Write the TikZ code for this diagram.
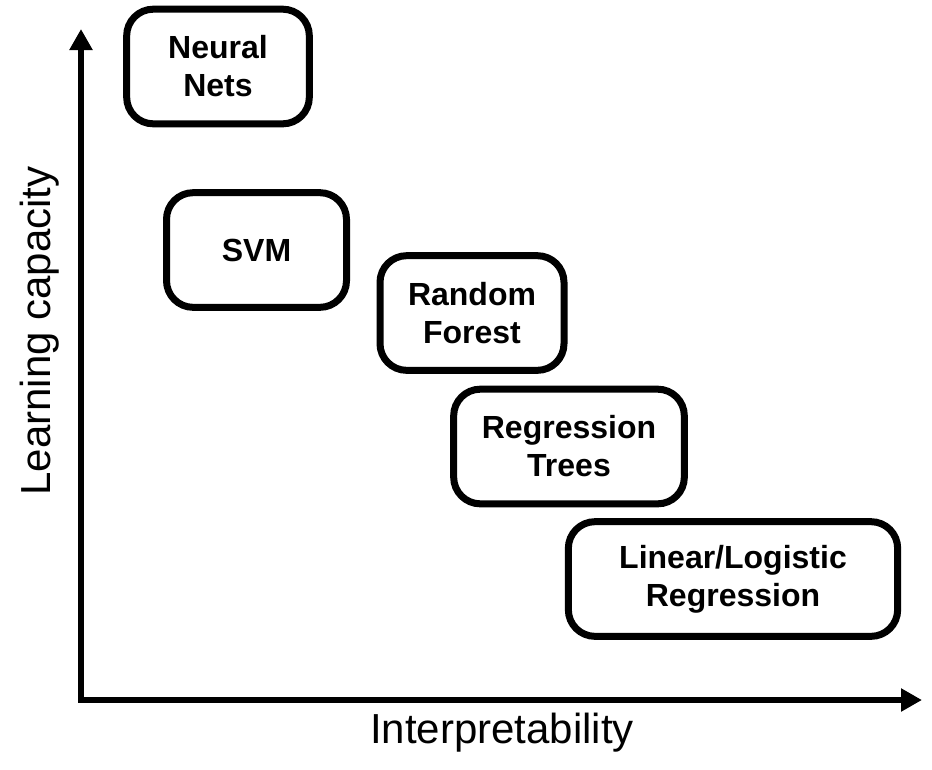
\documentclass[tikz,border=0pt]{standalone}
\usepackage{fontspec}
\setmainfont{Liberation Sans}
\usetikzlibrary{arrows.meta}

\begin{document}
\begin{tikzpicture}[x=0.75pt, y=-0.75pt,
	model/.style={shape=rectangle, draw=black, line width=5.25pt, rounded corners=20pt, align=center, minimum height=86pt, font=\fontsize{24}{28.5}\selectfont\bfseries},
	axis/.style={line width=4.5pt, {Triangle[length=15.75pt,width=16.5pt]}-{Triangle[length=15.75pt,width=16.5pt]}},
	label/.style={font=\fontsize{31.5}{38}\selectfont}]

	\useasboundingbox (0, 0) rectangle (932, 769);

	\coordinate (ytip) at (81, 29);
	\coordinate (o) at (81, 700);
	\coordinate (xtip) at (922, 700);
	\draw[axis] (ytip) -- (o) -- (xtip);

	\node[label, rotate=90, anchor=base] (capacity) at (50.7, 331) {Learning capacity};
	\node[label, anchor=base] (interp) at (502, 743) {Interpretability};

	\node[model, minimum width=137pt] (nn) at (218, 66.5)   {Neural\\Nets};
	\node[model, minimum width=135pt] (svm) at (256.5, 250) {SVM};
	\node[model, minimum width=138pt] (rf) at (472, 313)    {Random\\Forest};
	\node[model, minimum width=173pt] (rt) at (569, 446.5)  {Regression\\Trees};
	\node[model, minimum width=247pt] (ll) at (733, 579)    {Linear/Logistic\\Regression};

\end{tikzpicture}
\end{document}
